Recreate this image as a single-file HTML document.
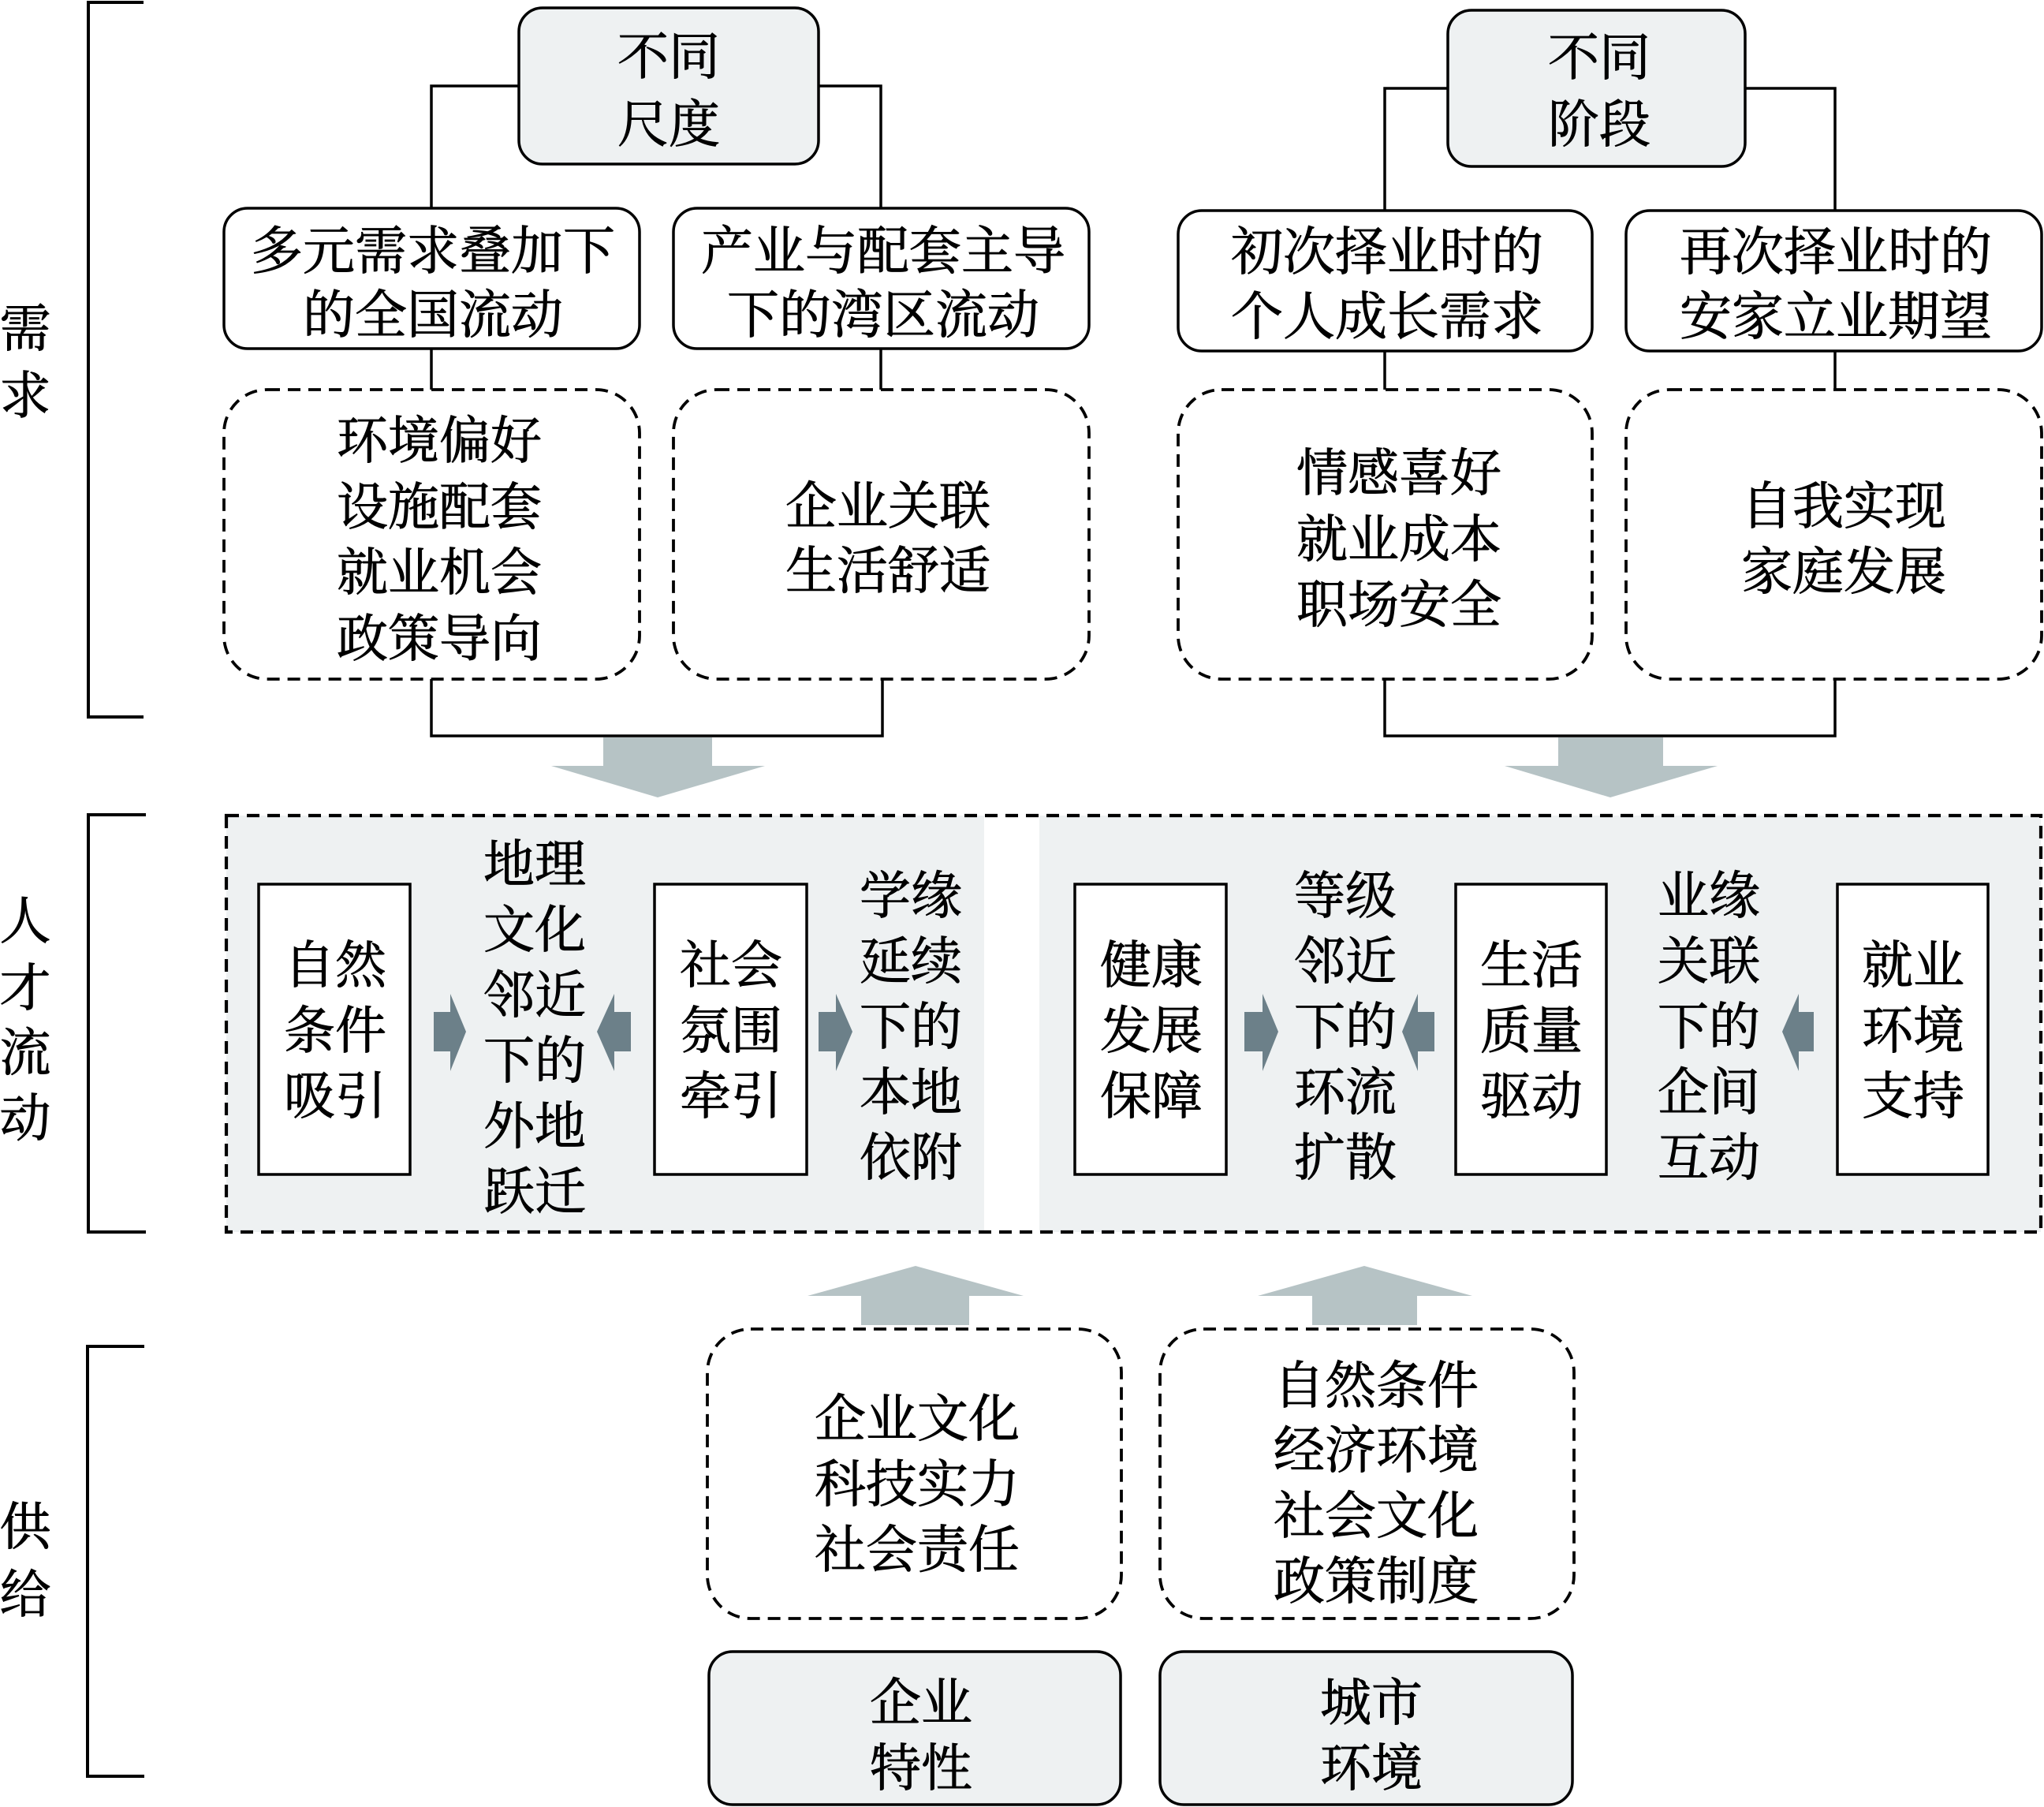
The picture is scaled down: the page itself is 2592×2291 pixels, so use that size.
<!DOCTYPE html>
<html>
<head>
<meta charset="utf-8">
<style>
html,body{margin:0;padding:0;background:#fff;}
svg{display:block;}
text{font-family:"Liberation Serif","Noto Serif CJK SC","Noto Serif CJK TC",serif;font-size:65px;fill:#000;stroke:#000;stroke-width:0.9px;text-anchor:middle;}
text.w{font-size:66px;}
</style>
</head>
<body>
<svg width="2592" height="2291" viewBox="0 0 2592 2291" xmlns="http://www.w3.org/2000/svg">
<rect x="0" y="0" width="2592" height="2291" fill="#fff"/>

<!-- Brackets -->
<g fill="none" stroke="#000" stroke-width="4">
  <path d="M182,3 H112 V909 H182"/>
  <path d="M185,1033 H112 V1562 H185"/>
  <path d="M183,1707 H111 V2252 H183"/>
</g>
<text x="32" y="439">需</text>
<text x="32" y="524">求</text>
<text x="32" y="1190">人</text>
<text x="32" y="1275">才</text>
<text x="32" y="1357">流</text>
<text x="32" y="1440">动</text>
<text x="32" y="1958">供</text>
<text x="32" y="2044">给</text>

<!-- Connectors top -->
<g fill="none" stroke="#000" stroke-width="3.5">
  <path d="M658,109 H547 V264"/>
  <path d="M1038,109 H1117 V264"/>
  <path d="M1836,112 H1756 V267"/>
  <path d="M2213,112 H2327 V267"/>
  <path d="M547,442 V494"/>
  <path d="M1117,442 V494"/>
  <path d="M1756,445 V494"/>
  <path d="M2327,445 V494"/>
  <path d="M547,861 V933 H1119 V861"/>
  <path d="M1756,861 V933 H2327 V861"/>
</g>

<!-- Top gray boxes -->
<g fill="#eef1f2" stroke="#000" stroke-width="3.5">
  <rect x="658" y="10" width="380" height="198" rx="30" ry="30"/>
  <rect x="1836" y="13" width="377" height="198" rx="30" ry="30"/>
</g>
<text x="848" y="94">不同</text>
<text x="848" y="180">尺度</text>
<text x="2028" y="95">不同</text>
<text x="2028" y="180">阶段</text>

<!-- Row 2 boxes -->
<g fill="#fff" stroke="#000" stroke-width="3.5">
  <rect x="284" y="264" width="527" height="178" rx="30" ry="30"/>
  <rect x="854" y="264" width="527" height="178" rx="30" ry="30"/>
  <rect x="1494" y="267" width="525" height="178" rx="30" ry="30"/>
  <rect x="2062" y="267" width="527" height="178" rx="30" ry="30"/>
</g>
<text class="w" x="549" y="341">多元需求叠加下</text>
<text class="w" x="549" y="422">的全国流动</text>
<text class="w" x="1120" y="341">产业与配套主导</text>
<text class="w" x="1120" y="422">下的湾区流动</text>
<text class="w" x="1759" y="342">初次择业时的</text>
<text class="w" x="1759" y="424">个人成长需求</text>
<text class="w" x="2328" y="342">再次择业时的</text>
<text class="w" x="2328" y="424">安家立业期望</text>

<!-- Dashed boxes demand -->
<g fill="none" stroke="#000" stroke-width="3.8" stroke-dasharray="16 10">
  <rect x="284" y="494" width="527" height="367" rx="55" ry="55"/>
  <rect x="854" y="494" width="527" height="367" rx="55" ry="55"/>
  <rect x="1494" y="494" width="525" height="367" rx="55" ry="55"/>
  <rect x="2062" y="494" width="527" height="367" rx="55" ry="55"/>
</g>
<text x="557" y="581">环境偏好</text>
<text x="557" y="665">设施配套</text>
<text x="557" y="748">就业机会</text>
<text x="557" y="832">政策导向</text>
<text x="1126" y="664">企业关联</text>
<text x="1126" y="746">生活舒适</text>
<text x="1774" y="622">情感喜好</text>
<text x="1774" y="706">就业成本</text>
<text x="1774" y="789">职场安全</text>
<text x="2338" y="664">自我实现</text>
<text x="2338" y="747">家庭发展</text>

<!-- Big down arrows -->
<g fill="#b6c3c5">
  <rect x="765" y="935" width="138" height="37"/>
  <polygon points="699,971 970,971 834,1011"/>
  <rect x="1976" y="935" width="133" height="37"/>
  <polygon points="1908,971 2178,971 2042,1011"/>
</g>

<!-- Middle region -->
<rect x="287" y="1034" width="961" height="528" fill="#eef1f2"/>
<rect x="1318" y="1034" width="1270" height="528" fill="#eef1f2"/>
<rect x="287" y="1034" width="2301" height="528" fill="none" stroke="#000" stroke-width="4.2" stroke-dasharray="16 10"/>

<g fill="#fff" stroke="#000" stroke-width="3.5">
  <rect x="328" y="1121" width="192" height="368"/>
  <rect x="830" y="1121" width="193" height="368"/>
  <rect x="1363" y="1121" width="192" height="368"/>
  <rect x="1846" y="1121" width="191" height="368"/>
  <rect x="2330" y="1121" width="191" height="368"/>
</g>

<text x="425" y="1246">自然</text>
<text x="425" y="1329">条件</text>
<text x="425" y="1412">吸引</text>

<text x="927" y="1246">社会</text>
<text x="927" y="1329">氛围</text>
<text x="927" y="1412">牵引</text>

<text x="1460" y="1246">健康</text>
<text x="1460" y="1329">发展</text>
<text x="1460" y="1412">保障</text>

<text x="1942" y="1246">生活</text>
<text x="1942" y="1329">质量</text>
<text x="1942" y="1412">驱动</text>

<text x="2426" y="1246">就业</text>
<text x="2426" y="1329">环境</text>
<text x="2426" y="1412">支持</text>

<text x="678" y="1118">地理</text>
<text x="678" y="1201">文化</text>
<text x="678" y="1284">邻近</text>
<text x="678" y="1367">下的</text>
<text x="678" y="1450">外地</text>
<text x="678" y="1533">跃迁</text>

<text x="1155" y="1158">学缘</text>
<text x="1155" y="1241">延续</text>
<text x="1155" y="1324">下的</text>
<text x="1155" y="1407">本地</text>
<text x="1155" y="1490">依附</text>

<text x="1706" y="1158">等级</text>
<text x="1706" y="1241">邻近</text>
<text x="1706" y="1324">下的</text>
<text x="1706" y="1407">环流</text>
<text x="1706" y="1490">扩散</text>

<text x="2167" y="1158">业缘</text>
<text x="2167" y="1241">关联</text>
<text x="2167" y="1324">下的</text>
<text x="2167" y="1407">企间</text>
<text x="2167" y="1490">互动</text>

<!-- Small arrows -->
<g fill="#6c8089">
  <polygon points="550,1283 571,1283 571,1260 591,1308 571,1358 571,1333 550,1333"/>
  <polygon points="800,1283 779,1283 779,1260 757,1308 779,1358 779,1333 800,1333"/>
  <polygon points="1038,1283 1060,1283 1060,1260 1081,1308 1060,1358 1060,1333 1038,1333"/>
  <polygon points="1578,1283 1601,1283 1601,1260 1621,1308 1601,1358 1601,1333 1578,1333"/>
  <polygon points="1819,1283 1798,1283 1798,1260 1778,1308 1798,1358 1798,1333 1819,1333"/>
  <polygon points="2300,1283 2281,1283 2281,1260 2260,1308 2281,1358 2281,1333 2300,1333"/>
</g>

<!-- Up arrows -->
<g fill="#b6c3c5">
  <polygon points="1024,1643 1298,1643 1161,1605"/>
  <rect x="1092" y="1642" width="137" height="38"/>
  <polygon points="1595,1643 1867,1643 1730,1605"/>
  <rect x="1664" y="1642" width="133" height="38"/>
</g>

<!-- Supply dashed boxes -->
<g fill="none" stroke="#000" stroke-width="3.8" stroke-dasharray="16 10">
  <rect x="897" y="1685" width="525" height="367" rx="55" ry="55"/>
  <rect x="1471" y="1685" width="525" height="367" rx="55" ry="55"/>
</g>
<text x="1163" y="1821">企业文化</text>
<text x="1163" y="1904">科技实力</text>
<text x="1163" y="1987">社会责任</text>
<text x="1745" y="1779">自然条件</text>
<text x="1745" y="1861">经济环境</text>
<text x="1745" y="1944">社会文化</text>
<text x="1745" y="2027">政策制度</text>

<!-- Bottom gray boxes -->
<g fill="#eef1f2" stroke="#000" stroke-width="3.5">
  <rect x="899" y="2094" width="522" height="194" rx="30" ry="30"/>
  <rect x="1471" y="2094" width="523" height="194" rx="30" ry="30"/>
</g>
<text x="1168" y="2181">企业</text>
<text x="1168" y="2264">特性</text>
<text x="1739" y="2181">城市</text>
<text x="1739" y="2264">环境</text>
</svg>
</body>
</html>
